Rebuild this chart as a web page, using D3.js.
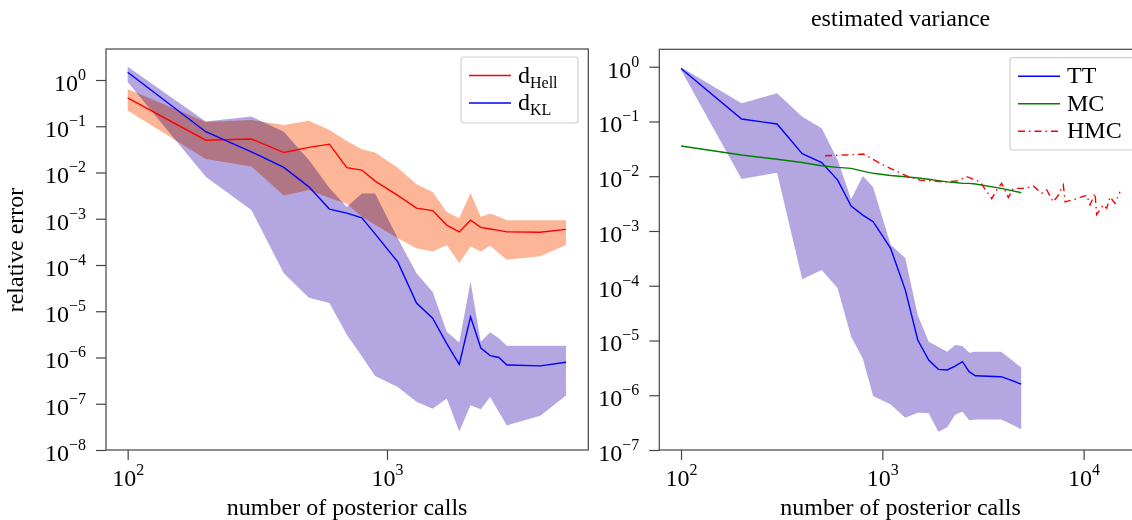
<!DOCTYPE html>
<html>
<head>
<meta charset="utf-8">
<script src="https://cdn.jsdelivr.net/npm/d3@7"></script>
<style>
  body { margin: 0; background: #fff; }
  svg text { font-family: "Liberation Serif", "Times New Roman", serif; fill: #000; }
</style>
</head>
<body>
<script>
// number of posterior calls (shared x for the TT runs)
var calls = [100, 200, 300, 400, 500, 600, 700, 800, 900, 1100, 1300, 1500, 1700, 1900, 2100, 2300, 2500, 2700, 2900, 3900, 4900];

// left panel: relative error
var hellMean = [0.41, 0.050, 0.053, 0.027, 0.035, 0.041, 0.0127, 0.0113, 0.0065, 0.0032, 0.0017, 0.0015, 7.3e-4, 5.2e-4, 9.3e-4, 6.5e-4, 6.0e-4, 5.6e-4, 5.2e-4, 5.1e-4, 5.9e-4];
var hellHigh = [0.64, 0.123, 0.136, 0.106, 0.132, 0.083, 0.048, 0.032, 0.027, 0.0126, 0.0056, 0.0038, 0.0014, 0.00102, 0.0036, 0.0011, 0.0013, 0.0011, 9.3e-4, 9.3e-4, 9.3e-4];
var hellLow = [0.22, 0.0195, 0.0135, 0.0032, 0.0042, 0.0028, 0.0021, 0.0011, 7.4e-4, 3.8e-4, 2.3e-4, 1.95e-4, 2.7e-4, 1.1e-4, 2.5e-4, 1.95e-4, 2.6e-4, 1.8e-4, 1.3e-4, 1.55e-4, 2.7e-4];

var klMean = [1.47, 0.076, 0.028, 0.0129, 0.0049, 0.00162, 0.00132, 0.00105, 4.7e-4, 1.17e-4, 1.5e-5, 7.1e-6, 2.0e-6, 7.1e-7, 7.6e-6, 1.6e-6, 1.1e-6, 1.0e-6, 6.9e-7, 6.6e-7, 7.9e-7];
var klHigh = [1.94, 0.126, 0.162, 0.076, 0.0186, 0.0046, 0.0018, 0.0035, 0.0035, 3.8e-4, 6.6e-5, 2.6e-5, 3.6e-6, 2.1e-6, 4.4e-5, 2.2e-6, 3.5e-6, 2.6e-6, 1.8e-6, 1.8e-6, 1.8e-6];
var klLow = [0.91, 0.0081, 0.00155, 6.6e-5, 1.95e-5, 1.5e-5, 3.1e-6, 1.07e-6, 4.0e-7, 2.3e-7, 1.1e-7, 7.8e-8, 1.3e-7, 2.5e-8, 9.3e-8, 7.6e-8, 1.4e-7, 6.6e-8, 3.4e-8, 5.5e-8, 1.5e-7];

// right panel: estimated variance
var ttMean = [0.93, 0.111, 0.090, 0.0258, 0.0177, 0.0085, 0.00286, 0.00195, 0.00148, 4.8e-4, 8.4e-5, 1.02e-5, 4.4e-6, 2.97e-6, 2.9e-6, 3.4e-6, 4.1e-6, 2.7e-6, 2.27e-6, 2.18e-6, 1.6e-6];
var ttHigh = [0.98, 0.215, 0.327, 0.122, 0.075, 0.0198, 0.0038, 0.0101, 0.0063, 5.6e-4, 3.2e-4, 2.9e-5, 9.5e-6, 7.6e-6, 6.2e-6, 8.3e-6, 7.9e-6, 6.0e-6, 6.2e-6, 6.2e-6, 3.2e-6];
var ttLow = [0.87, 0.0089, 0.0116, 1.32e-4, 1.94e-4, 9.0e-5, 1.17e-5, 4.7e-6, 9.7e-7, 6.8e-7, 3.9e-7, 4.8e-7, 4.7e-7, 2.15e-7, 2.6e-7, 4.4e-7, 5.0e-7, 3.5e-7, 3.6e-7, 3.6e-7, 2.4e-7];
var mcMean = [0.0356, 0.0244, 0.0204, 0.0178, 0.0155, 0.0145, 0.0139, 0.0124, 0.0113, 0.0103, 0.0098, 0.0093, 0.0088, 0.0083, 0.0079, 0.0077, 0.0074, 0.0074, 0.0072, 0.0060, 0.0050];

var hmcCalls = [519, 653, 805, 1012, 1322, 1539, 2010, 2344, 2627, 3057, 3494, 3700, 3918, 4227, 4477, 5118, 5625, 6195, 6560, 7070, 7490, 7930, 8090, 9250, 10360, 10760, 11390, 11610, 12530, 13030, 13520, 14320, 15170];
var hmcMean = [0.0237, 0.0244, 0.0254, 0.0160, 0.0101, 0.0085, 0.0079, 0.0082, 0.0098, 0.0079, 0.0039, 0.0056, 0.0074, 0.0041, 0.0060, 0.0060, 0.0066, 0.0049, 0.0056, 0.0034, 0.0045, 0.0069, 0.0034, 0.0039, 0.0045, 0.0030, 0.0049, 0.0020, 0.0030, 0.0026, 0.0042, 0.0032, 0.0052];

// tick exponents
var leftYExp = [0, -1, -2, -3, -4, -5, -6, -7, -8];
var leftXExp = [2, 3];
var rightYExp = [0, -1, -2, -3, -4, -5, -6, -7];
var rightXExp = [2, 3, 4];

var FS = 24;
var SUB = 16;
var svg = d3.select("body").append("svg")
    .attr("width", 1132)
    .attr("height", 520);

function supLabels(g) {
  g.selectAll(".tick text").each(function(d) {
    var e = Math.round(Math.log10(d));
    var t = d3.select(this).text(null);
    t.append("tspan").text("10");
    t.append("tspan")
      .attr("dy", -11)
      .attr("font-size", SUB)
      .text(e < 0 ? "\u2212" + (-e) : e);
  });
}

function drawAxes(box, x, y, xExp, yExp) {
  var gx = svg.append("g")
      .attr("transform", "translate(0," + box.y1 + ")")
      .call(d3.axisBottom(x)
        .tickValues(xExp.map(function(e) { return Math.pow(10, e); }))
        .tickSize(10).tickSizeOuter(0).tickPadding(9));
  var gy = svg.append("g")
      .attr("transform", "translate(" + box.x0 + ",0)")
      .call(d3.axisLeft(y)
        .tickValues(yExp.map(function(e) { return Math.pow(10, e); }))
        .tickSize(10).tickSizeOuter(0).tickPadding(10));
  [gx, gy].forEach(function(g) {
    g.attr("font-family", null).attr("font-size", FS);
    g.select(".domain").remove();
    g.selectAll(".tick line").attr("stroke", "#444").attr("stroke-width", 1.2);
    supLabels(g);
  });
  gy.selectAll(".tick text").attr("dy", "0.43em");

  // frame
  svg.append("rect")
      .attr("x", box.x0)
      .attr("y", box.y0)
      .attr("width", box.x1 - box.x0)
      .attr("height", box.y1 - box.y0)
      .attr("fill", "none")
      .attr("stroke", "#444")
      .attr("stroke-width", 1.2);
}

function legend(x0, y0, w, h, items) {
  var g = svg.append("g");
  g.append("rect")
    .attr("x", x0).attr("y", y0)
    .attr("width", w).attr("height", h)
    .attr("rx", 3)
    .attr("fill", "#fff")
    .attr("stroke", "#d0d0d0")
    .attr("stroke-width", 1.2);
  items.forEach(function(it, i) {
    var cy = y0 + 18.5 + i * 27.5;
    g.append("line")
      .attr("x1", x0 + 8).attr("x2", x0 + 50)
      .attr("y1", cy).attr("y2", cy)
      .attr("stroke", it.color)
      .attr("stroke-width", 1.4)
      .attr("stroke-dasharray", it.dash || null);
    var t = g.append("text")
      .attr("x", x0 + 57)
      .attr("y", cy + 7)
      .attr("font-size", FS)
      .text(it.label);
    if (it.sub) {
      t.append("tspan")
        .attr("dy", 5)
        .attr("font-size", SUB)
        .text(it.sub);
    }
  });
}

function drawLeft() {
  var box = {x0: 106, x1: 588.3, y0: 49, y1: 450};
  var x = d3.scaleLog().domain([82.5, 5975]).range([box.x0, box.x1]);
  var y = d3.scaleLog().domain([1e-8, 4.68]).range([box.y1, box.y0]);

  var idx = d3.range(calls.length);

  var hellBand = d3.area()
    .x(function(i) { return x(calls[i]); })
    .y0(function(i) { return y(hellLow[i]); })
    .y1(function(i) { return y(hellHigh[i]); });
  var klBand = d3.area()
    .x(function(i) { return x(calls[i]); })
    .y0(function(i) { return y(klLow[i]); })
    .y1(function(i) { return y(klHigh[i]); });

  svg.append("path")
    .datum(idx)
    .attr("fill", "#fdb597")
    .attr("d", hellBand);

  svg.append("path")
    .datum(idx)
    .attr("fill", "#b3a6e1")
    .style("mix-blend-mode", "multiply")
    .attr("d", klBand);

  var hellLine = d3.line()
    .x(function(i) { return x(calls[i]); })
    .y(function(i) { return y(hellMean[i]); });
  var klLine = d3.line()
    .x(function(i) { return x(calls[i]); })
    .y(function(i) { return y(klMean[i]); });

  svg.append("path").datum(idx)
    .attr("fill", "none").attr("stroke", "#ff0000").attr("stroke-width", 1.4)
    .attr("d", hellLine);
  svg.append("path").datum(idx)
    .attr("fill", "none").attr("stroke", "#0000ff").attr("stroke-width", 1.4)
    .attr("d", klLine);

  drawAxes(box, x, y, leftXExp, leftYExp);

  svg.append("text")
    .attr("transform", "translate(23,250) rotate(-90)")
    .attr("text-anchor", "middle")
    .attr("font-size", FS)
    .text("relative error");

  svg.append("text")
    .attr("x", (box.x0 + box.x1) / 2)
    .attr("y", 515)
    .attr("text-anchor", "middle")
    .attr("font-size", FS)
    .text("number of posterior calls");

  legend(461, 57, 117, 66, [
    {label: "d", sub: "Hell", color: "#ff0000"},
    {label: "d", sub: "KL", color: "#0000ff"}
  ]);
}

function drawRight() {
  var box = {x0: 659.3, x1: 1142, y0: 49.3, y1: 450};
  var x = d3.scaleLog().domain([78, 19500]).range([box.x0, box.x1]);
  var y = d3.scaleLog().domain([1e-7, 2.08]).range([box.y1, box.y0]);

  var idx = d3.range(calls.length);

  var ttBand = d3.area()
    .x(function(i) { return x(calls[i]); })
    .y0(function(i) { return y(ttLow[i]); })
    .y1(function(i) { return y(ttHigh[i]); });

  svg.append("path").datum(idx)
    .attr("fill", "#b3a6e1")
    .attr("d", ttBand);

  var ttLine = d3.line()
    .x(function(i) { return x(calls[i]); })
    .y(function(i) { return y(ttMean[i]); });
  var mcLine = d3.line()
    .x(function(i) { return x(calls[i]); })
    .y(function(i) { return y(mcMean[i]); });
  var hmcLine = d3.line()
    .x(function(i) { return x(hmcCalls[i]); })
    .y(function(i) { return y(hmcMean[i]); });

  svg.append("path").datum(idx)
    .attr("fill", "none").attr("stroke", "#0000ff").attr("stroke-width", 1.4)
    .attr("d", ttLine);
  svg.append("path").datum(idx)
    .attr("fill", "none").attr("stroke", "#008000").attr("stroke-width", 1.4)
    .attr("d", mcLine);
  svg.append("path").datum(d3.range(hmcCalls.length))
    .attr("fill", "none").attr("stroke", "#ff0000").attr("stroke-width", 1.4)
    .attr("stroke-dasharray", "7,4,1.5,4")
    .attr("d", hmcLine);

  drawAxes(box, x, y, rightXExp, rightYExp);

  svg.append("text")
    .attr("x", 900.6)
    .attr("y", 26)
    .attr("text-anchor", "middle")
    .attr("font-size", FS)
    .text("estimated variance");

  svg.append("text")
    .attr("x", 900.6)
    .attr("y", 515)
    .attr("text-anchor", "middle")
    .attr("font-size", FS)
    .text("number of posterior calls");

  legend(1010, 57.7, 125, 92.3, [
    {label: "TT", color: "#0000ff"},
    {label: "MC", color: "#008000"},
    {label: "HMC", color: "#ff0000", dash: "7,4,1.5,4"}
  ]);
}

drawLeft();
drawRight();
</script>
</body>
</html>
